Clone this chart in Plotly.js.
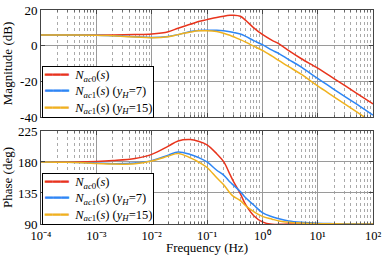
<!DOCTYPE html>
<html><head><meta charset="utf-8">
<script src="https://cdn.plot.ly/plotly-3.0.1.min.js"></script>
<style>html,body{margin:0;padding:0;background:#fff}#c{width:385px;height:255px}
#c svg text{font-family:"Liberation Serif","Times New Roman",serif !important}</style>
</head><body><div id="c"></div>
<script>
const freq = [1e-4, 3e-4, 1e-3, 2e-3, 5e-3, 1e-2, 2e-2, 3e-2, 5e-2, 0.07, 0.1, 0.15, 0.2, 0.26, 0.3, 0.4, 0.5, 0.7, 1, 1.5, 2, 3, 5, 10, 20, 50, 100];
const magAc0 = [6.0, 6.0, 6.0, 6.05, 6.2, 6.5, 7.8, 9.8, 12.0, 13.5, 14.6, 15.8, 16.5, 17.0, 17.1, 16.5, 14.2, 10.0, 6.3, 3.0, 1.0, -2.8, -7.2, -12.6, -18.6, -26.6, -32.7];
const magAc1v7 = [6.0, 6.0, 5.9, 5.6, 5.0, 4.6, 5.2, 6.2, 8.0, 8.5, 8.6, 8.6, 8.3, 7.8, 7.4, 6.5, 5.2, 2.8, 0.6, -2.5, -4.5, -7.8, -11.9, -18.4, -24.6, -32.7, -38.9];
const magAc1v15 = [6.0, 6.0, 5.9, 5.5, 4.9, 4.5, 5.0, 6.2, 7.6, 8.3, 8.4, 7.9, 7.0, 5.8, 5.0, 3.4, 2.0, -0.3, -2.6, -5.9, -8.4, -11.8, -16.0, -22.6, -28.8, -37.0, -43.3];
const phAc0 = [180, 180.2, 180.8, 182, 185, 191, 203, 210.5, 212.5, 210, 205, 192, 180.5, 162, 152, 134, 118, 102, 93, 89.5, 89.5, 90, 90, 90, 90, 90, 90];
const phAc1v7 = [180, 179.6, 178.5, 177.6, 178.5, 182, 190, 194.5, 191, 186.5, 180, 168, 161, 151, 146.5, 137, 128, 117.5, 106.5, 100.5, 97.5, 94.5, 92.5, 91, 90.5, 90.2, 90];
const phAc1v15 = [180, 179.5, 178, 177, 177.5, 181.5, 188.5, 192.5, 186, 180, 172, 157, 147, 135, 130, 124, 116.5, 108, 101, 97, 94.5, 92.5, 91.3, 90.5, 90.2, 90, 90];
const names = ["<i>N</i><sub><i>ac</i>0</sub>(<i>s</i>)",
               "<i>N</i><sub><i>ac</i>1</sub>(<i>s</i>) (<i>y<sub>H</sub></i>=7)",
               "<i>N</i><sub><i>ac</i>1</sub>(<i>s</i>) (<i>y<sub>H</sub></i>=15)"];
const colors = ["#e8341c", "#2e86f5", "#f0b21e"];
const xTicks = [1e-4, 1e-3, 1e-2, 1e-1, 1, 10, 100];
const xText = ["10⁻⁴", "10⁻³", "10⁻²", "10⁻¹", "10⁰", "10¹", "10²"];
const magTicks = [20, 0, -20, -40], magText = ["20", "0", "-20", "-40"];
const phTicks = [90, 135, 180, 225], phText = ["90", "135", "180", "225"];

const minorVals = [];
for (let d = -4; d < 2; d++) for (let k = 2; k <= 9; k++) minorVals.push(k * Math.pow(10, d));

const mags = [magAc0, magAc1v7, magAc1v15];
const phs = [phAc0, phAc1v7, phAc1v15];
const traces = [];
mags.forEach((m, i) => traces.push({x: freq, y: m, xaxis: 'x', yaxis: 'y', name: names[i], type: 'scatter', mode: 'lines', line: {color: colors[i], width: 1.5, shape: 'spline'}}));
phs.forEach((p, i) => traces.push({x: freq, y: p, xaxis: 'x2', yaxis: 'y2', name: names[i], type: 'scatter', mode: 'lines', line: {color: colors[i], width: 1.5, shape: 'spline'}}));

// legend boxes (text with coloured line samples)
const legendText = names.map((n, i) => `<span style="color:${colors[i]}">━━━</span>  ${n}`).join('<br>');

const F = 'Liberation Serif';
const gridc = "#9a9a9a";
function xa(show, anchor) {
  return {type: 'log', range: [-4, 2], tickmode: 'array', tickvals: xTicks, ticktext: xText, showticklabels: show, anchor: anchor,
    tickangle: 0, ticklabeloverflow: 'allow',
    showgrid: true, gridcolor: gridc, gridwidth: 1, showline: true, mirror: 'ticks', linecolor: '#444', linewidth: 1,
    ticks: 'inside', ticklen: 4, tickcolor: '#444',
    minor: {showgrid: true, tickmode: 'array', tickvals: minorVals, gridcolor: '#aaaaaa', griddash: 'dot', ticks: 'inside', ticklen: 2, tickcolor: '#666'},
    tickfont: {family: F, size: 12.5, color: '#000'}, zeroline: false};
}
const legBox = {xref: 'paper', yref: 'paper', x: 0.003, xanchor: 'left', yanchor: 'top', align: 'left', showarrow: false,
  text: legendText, bgcolor: '#fff', bordercolor: '#000', borderwidth: 1, borderpad: 1, font: {family: F, size: 12.5, color: '#000'}};
const layout = {
  width: 385, height: 255, margin: {l: 41, r: 12, t: 10, b: 31},
  paper_bgcolor: '#fff', plot_bgcolor: '#fff',
  font: {family: F, size: 12, color: '#000'},
  showlegend: false,
  xaxis: Object.assign(xa(false, 'y'), {domain: [0, 1]}),
  xaxis2: Object.assign(xa(true, 'y2'), {domain: [0, 1], title: {text: 'Frequency (Hz)', font: {family: F, size: 13}, standoff: 0}}),
  yaxis: {domain: [0.5, 1], range: [-40, 20], tickvals: magTicks, ticktext: magText, anchor: 'x', tickangle: 0,
    showgrid: true, gridcolor: gridc, showline: true, mirror: 'ticks', linecolor: '#444', ticks: 'inside', ticklen: 4, tickcolor: '#444', zeroline: false,
    tickfont: {family: F, size: 13}, title: {text: 'Magnitude (dB)', font: {family: F, size: 13}, standoff: 4}},
  yaxis2: {domain: [0, 0.4346], range: [90, 225], tickvals: phTicks, ticktext: phText, anchor: 'x2', tickangle: 0,
    showgrid: true, gridcolor: gridc, showline: true, mirror: 'ticks', linecolor: '#444', ticks: 'inside', ticklen: 4, tickcolor: '#444', zeroline: false,
    tickfont: {family: F, size: 13}, title: {text: 'Phase (deg)', font: {family: F, size: 13}, standoff: 4}},
  annotations: [Object.assign({}, legBox, {y: 0.736}), Object.assign({}, legBox, {y: 0.240})]
};
Plotly.newPlot('c', traces, layout, {staticPlot: true, displayModeBar: false});
</script></body></html>
